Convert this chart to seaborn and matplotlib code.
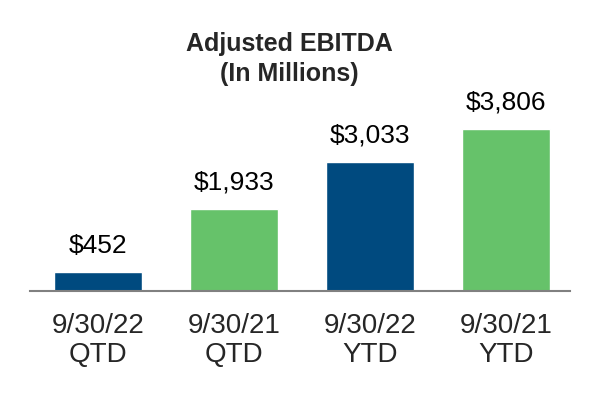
import matplotlib
matplotlib.use("Agg")
import matplotlib.pyplot as plt
import seaborn as sns
import pandas as pd

# data
categories = ["9/30/22\nQTD", "9/30/21\nQTD", "9/30/22\nYTD", "9/30/21\nYTD"]
values = [452, 1933, 3033, 3806]
labels = ["$452", "$1,933", "$3,033", "$3,806"]
bar_colors = ["#004A7F", "#66C26A", "#004A7F", "#66C26A"]

df = pd.DataFrame({"period": categories, "ebitda": values})

sns.set_style("white")
plt.rcParams["font.family"] = ["Liberation Sans", "DejaVu Sans"]

fig = plt.figure(figsize=(6, 4), dpi=100)
ax = fig.add_axes([0.05, 0.2725, 0.9, 0.5])

sns.barplot(data=df, x="period", y="ebitda", hue="period", palette=bar_colors,
            legend=False, width=0.647, saturation=1, ax=ax)

ax.set_xlim(-0.5, 3.47)
ax.set_ylim(0, 4695)

for i, (v, lab) in enumerate(zip(values, labels)):
    ax.annotate(lab, (i, v), xytext=(0, 10), textcoords="offset points",
                ha="center", va="bottom", fontsize=19, color="black")

for s in ["top", "right", "left"]:
    ax.spines[s].set_visible(False)
ax.spines["bottom"].set_color("#808080")
ax.spines["bottom"].set_linewidth(1.5)
ax.set_yticks([])
ax.set_xlabel("")
ax.set_ylabel("")
ax.tick_params(axis="x", length=0, pad=16, labelsize=20)
for t in ax.get_xticklabels():
    t.set_linespacing(1.12)

fig.text(289 / 600, 1 - 59 / 400, "Adjusted EBITDA\n(In Millions)", ha="center", va="center",
         fontsize=18, fontweight="bold", linespacing=1.3)

fig.savefig("out.png", dpi=100, facecolor="white")
